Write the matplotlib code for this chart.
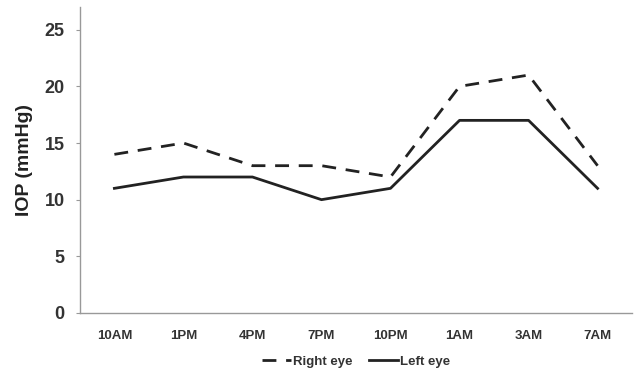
import matplotlib.pyplot as plt
import numpy as np

times = ['10AM', '1PM', '4PM', '7PM', '10PM', '1AM', '3AM', '7AM']
right_eye = [14, 15, 13, 13, 12, 20, 21, 13]
left_eye = [11, 12, 12, 10, 11, 17, 17, 11]

plt.rcParams['font.family'] = ['Liberation Sans', 'DejaVu Sans']

fig = plt.figure(figsize=(6.34, 3.73), dpi=100)
ax = fig.add_axes([0.126, 0.161, 0.871, 0.82])

x = np.arange(len(times))
ax.plot(x, right_eye, color='#222222', lw=2.0, ls=(0, (5, 3.5)), label='Right eye')
ax.plot(x, left_eye, color='#222222', lw=2.0, label='Left eye')

ax.set_xlim(-0.5, len(times) - 0.5)
ax.set_ylim(0, 27)
ax.set_yticks([0, 5, 10, 15, 20, 25])
ax.set_xticks(x)
ax.set_xticklabels(times)

for s in ['top', 'right']:
    ax.spines[s].set_visible(False)
for s in ['left', 'bottom']:
    ax.spines[s].set_color('#999999')
    ax.spines[s].set_linewidth(1.0)

ax.tick_params(axis='y', length=3, color='#999999', labelsize=13, labelcolor='#333333', pad=8)
ax.tick_params(axis='x', length=0, labelsize=9.5, labelcolor='#333333', pad=12)
for lbl in ax.get_xticklabels() + ax.get_yticklabels():
    lbl.set_fontweight('bold')

ax.set_ylabel('IOP (mmHg)', fontsize=14, fontweight='bold', color='#222222', labelpad=8)

leg = ax.legend(loc='upper center', bbox_to_anchor=(0.5, -0.1), ncol=2, frameon=False,
                prop={'weight': 'bold', 'size': 9.5}, handlelength=2.2, handletextpad=0.2,
                columnspacing=1.2)
for t in leg.get_texts():
    t.set_color('#333333')

fig.savefig('out.png', dpi=100)
